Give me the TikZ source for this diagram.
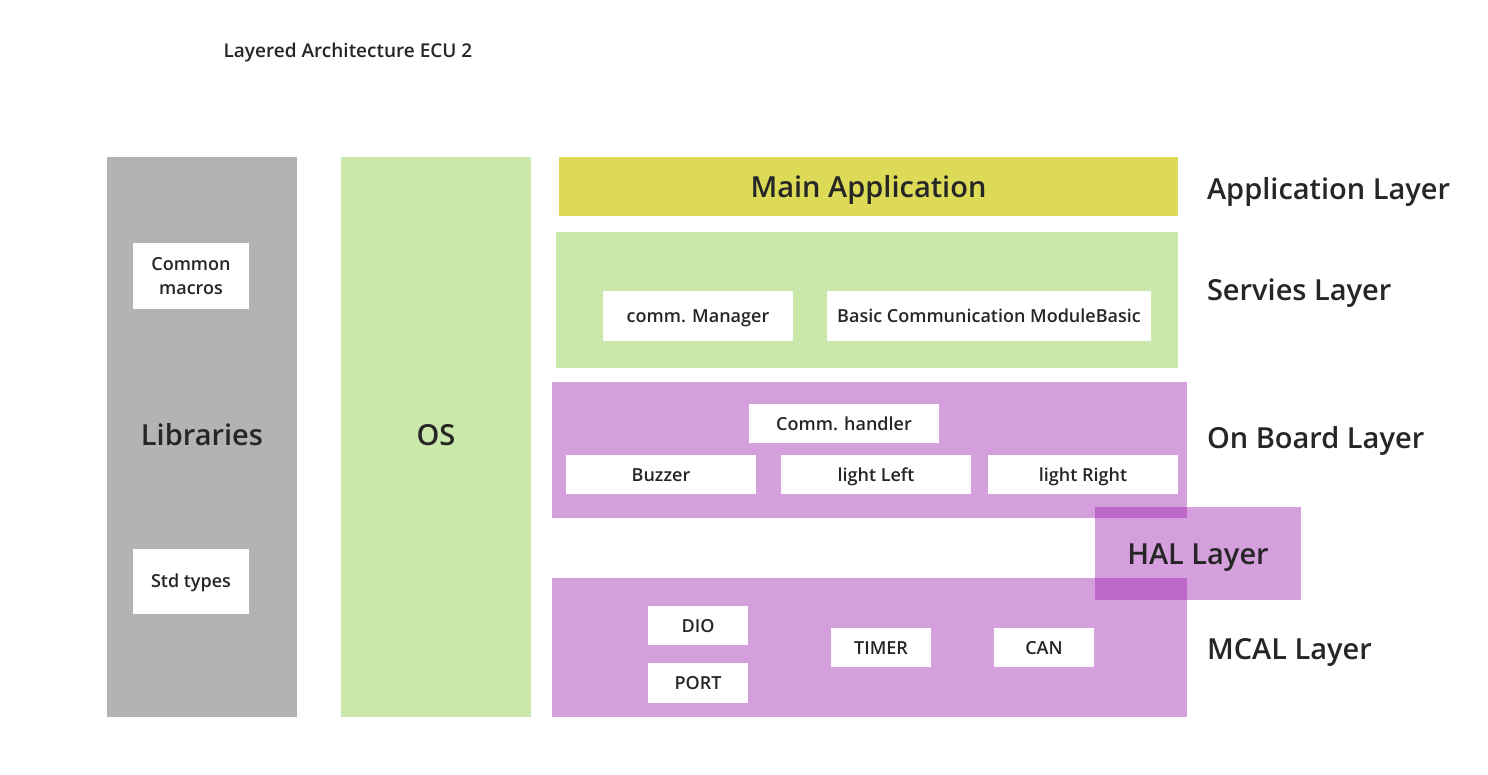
\documentclass[tikz,border=0pt]{standalone}
\usepackage{fontspec}
\setmainfont{Open Sans}[BoldFont={Open Sans Semibold}]

\definecolor{ink}{HTML}{262626}
\definecolor{libgray}{HTML}{B3B3B3}
\definecolor{osgreen}{HTML}{C9E8A9}
\definecolor{appyellow}{HTML}{DCDA56}
\definecolor{layerpurple}{HTML}{D59EDD}
\definecolor{halpurple}{RGB}{162,40,180}

\tikzset{
  block/.style={inner sep=0pt, outer sep=0pt, text=ink,
    font=\bfseries\fontsize{29}{33}\selectfont},
  bigline/.style={text height=21pt, text depth=0pt},
  unit/.style={block, fill=white, minimum width=#1, minimum height=39pt,
    font=\bfseries\fontsize{18}{24}\selectfont, align=center},
  oneline/.style={text height=13pt, text depth=0pt},
  layerlabel/.style={block, anchor=west, bigline}
}

\begin{document}
\begin{tikzpicture}[x=1pt,y=-1pt]

\useasboundingbox[fill=white] (0,0) rectangle (1488,774);

%% title
\node[inner sep=0pt, text=ink, font=\bfseries\fontsize{19}{22}\selectfont] (title) at (348,53) {Layered Architecture ECU 2};

%% side columns
\node[block, fill=libgray, minimum width=190pt, minimum height=560pt] (lib) at (202,437) {};
\node[block, fill=osgreen, minimum width=190pt, minimum height=560pt] (os) at (436,437) {};
\node[block, bigline] (libtext) at (202,435) {Libraries};
\node[block, bigline] (ostext) at (436,435) {OS};

\node[unit=116pt, minimum height=66pt] (macros) at (191,276) {Common\\macros};
\node[unit=116pt, minimum height=65pt, oneline] (stdtypes) at (191,581) {Std types};

%% layers
\node[block, fill=appyellow, minimum width=619pt, minimum height=59pt, bigline] (mainapp) at (868.5,186.5) {Main Application};
\node[block, fill=osgreen, minimum width=622pt, minimum height=136pt] (services) at (867,300) {};
\node[block, fill=layerpurple, minimum width=635pt, minimum height=136pt] (onboard) at (869.5,450) {};
\node[block, fill=layerpurple, minimum width=635pt, minimum height=139pt] (mcal) at (869.5,647.5) {};
\node[block, fill=halpurple, fill opacity=0.45, text opacity=1, minimum width=206pt, minimum height=93pt, bigline] (hal) at (1198,553.5) {HAL Layer};

%% services layer
\node[unit=190pt, minimum height=50pt, oneline] (commmgr) at (698,316) {comm. Manager};
\node[unit=324pt, minimum height=50pt, oneline] (basiccom) at (989,316) {Basic Communication ModuleBasic};

%% on board layer
\node[unit=190pt, oneline] (commhandler) at (844,423.5) {Comm. handler};
\node[unit=190pt, oneline] (buzzer) at (661,474.5) {Buzzer};
\node[unit=190pt, oneline] (lightleft) at (876,474.5) {light Left};
\node[unit=190pt, oneline] (lightright) at (1083,474.5) {light Right};

%% mcal layer
\node[unit=100pt, oneline] (dio) at (698,625.5) {DIO};
\node[unit=100pt, minimum height=40pt, oneline] (port) at (698,683) {PORT};
\node[unit=100pt, oneline] (timer) at (881,647.5) {TIMER};
\node[unit=100pt, oneline] (can) at (1044,647.5) {CAN};

%% layer labels
\node[layerlabel] (applabel) at (1207,189) {Application Layer};
\node[layerlabel] (servlabel) at (1207,290) {Servies Layer};
\node[layerlabel] (boardlabel) at (1207,438) {On Board Layer};
\node[layerlabel] (mcallabel) at (1207,649) {MCAL Layer};

\end{tikzpicture}
\end{document}
